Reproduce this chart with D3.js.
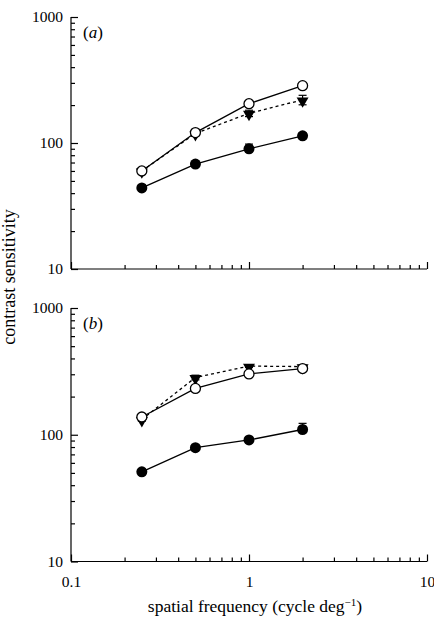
<!DOCTYPE html>
<html>
<head>
<meta charset="utf-8">
<script src="https://cdn.jsdelivr.net/npm/d3@7/dist/d3.min.js"></script>
<style>
  body { margin: 0; background: #fff; }
  svg { display: block; font-family: "Liberation Serif", "DejaVu Serif", serif; }
</style>
</head>
<body>
<svg id="chart" width="434" height="620"></svg>
<script>
// spatial frequencies (cycle/deg)
const freqs = [0.25, 0.5, 1, 2];

// panel (a)
const aOpen = [60, 121, 205, 285];
const aTri = [60, 119, 172, 220];
const aFilled = [44, 68, 90, 114];
const aTriErr = [3, 5, 10, 19];
const aFilledErr = [2, 2, 8, 6];

// panel (b)
const bOpen = [138, 232, 302, 333];
const bTri = [132, 283, 348, 345];
const bFilled = [51, 79, 91, 110];
const bTriErr = [4, 12, 8, 8];
const bFilledErr = [2, 3, 4, 13];

const yMajor = [10, 100, 1000];
const xMajor = [0.1, 1, 10];

const svg = d3.select('#chart');

const x = d3.scaleLog().domain([0.1, 10]).range([71, 427]);

function minorTicks(lo, hi) {
  const out = [];
  for (let d = lo; d < hi; d *= 10) {
    for (let k = 2; k <= 9; k++) out.push(+(d * k).toPrecision(3));
  }
  return out;
}

function panel(top, bottom, label, open, tri, filled, triErr, filledErr, showX) {
  const y = d3.scaleLog().domain([10, 1000]).range([bottom, top]);
  const g = svg.append('g');

  // y axis: ticks point inwards
  g.append('g')
    .attr('transform', `translate(${x(0.1)},0)`)
    .call(d3.axisLeft(y).tickValues(yMajor).tickSize(-7).tickPadding(8)
      .tickFormat(d3.format('d')))
    .call(a => a.select('.domain').attr('d', `M0,${bottom}V${top}`))
    .call(a => a.selectAll('text').attr('font-size', 15.5).attr('font-family', 'Liberation Serif').attr('fill', '#000'));
  g.append('g')
    .attr('transform', `translate(${x(0.1)},0)`)
    .call(d3.axisLeft(y).tickValues(minorTicks(10, 1000)).tickSize(-4).tickFormat(''))
    .call(a => a.select('.domain').remove());

  // x axis
  g.append('g')
    .attr('transform', `translate(0,${bottom})`)
    .call(d3.axisBottom(x).tickValues(xMajor).tickSize(-7).tickPadding(14)
      .tickFormat(showX ? (d => d3.format('~g')(d)) : ''))
    .call(a => a.select('.domain').attr('d', `M${x(0.1)},0H${x(10)}`))
    .call(a => a.selectAll('text').attr('font-size', 15.5).attr('font-family', 'Liberation Serif').attr('fill', '#000'));
  g.append('g')
    .attr('transform', `translate(0,${bottom})`)
    .call(d3.axisBottom(x).tickValues(minorTicks(0.1, 10)).tickSize(-4).tickFormat(''))
    .call(a => a.select('.domain').remove());

  g.selectAll('.domain, .tick line').attr('stroke', '#000').attr('stroke-width', 1.2);

  g.append('text')
    .attr('x', 83).attr('y', top + 21)
    .attr('font-size', 17)
    .html('(<tspan font-style="italic">' + label + '</tspan>)');

  const line = d3.line().x((d, i) => x(freqs[i])).y(d => y(d));

  // error bars
  function errBars(vals, errs, both) {
    const eb = g.append('g').attr('stroke', '#000').attr('stroke-width', 1.2);
    vals.forEach((v, i) => {
      const cx = x(freqs[i]);
      const y1 = y(v + errs[i]);
      const y0 = both ? y(Math.max(v - errs[i], 1)) : y(v);
      eb.append('line').attr('x1', cx).attr('x2', cx).attr('y1', y1).attr('y2', y0);
      eb.append('line').attr('x1', cx - 4).attr('x2', cx + 4).attr('y1', y1).attr('y2', y1);
      if (both) eb.append('line').attr('x1', cx - 4).attr('x2', cx + 4).attr('y1', y0).attr('y2', y0);
    });
  }
  errBars(tri, triErr, true);
  errBars(filled, filledErr, false);

  g.append('path').datum(tri).attr('d', line)
    .attr('fill', 'none').attr('stroke', '#000').attr('stroke-width', 1.3)
    .attr('stroke-dasharray', '3,3');
  g.append('path').datum(open).attr('d', line)
    .attr('fill', 'none').attr('stroke', '#000').attr('stroke-width', 1.3);
  g.append('path').datum(filled).attr('d', line)
    .attr('fill', 'none').attr('stroke', '#000').attr('stroke-width', 1.3);

  // markers
  g.selectAll('.tri').data(tri).enter().append('path')
    .attr('d', d3.symbol().type(d3.symbolTriangle).size(62))
    .attr('transform', (d, i) => `translate(${x(freqs[i])},${y(d) + 1}) rotate(180)`)
    .attr('fill', '#000');
  g.selectAll('.open').data(open).enter().append('circle')
    .attr('cx', (d, i) => x(freqs[i])).attr('cy', d => y(d)).attr('r', 5)
    .attr('fill', '#fff').attr('stroke', '#000').attr('stroke-width', 1.3);
  g.selectAll('.filled').data(filled).enter().append('circle')
    .attr('cx', (d, i) => x(freqs[i])).attr('cy', d => y(d)).attr('r', 5.5)
    .attr('fill', '#000');
}

panel(17, 269, 'a', aOpen, aTri, aFilled, aTriErr, aFilledErr, false);
panel(308, 561.5, 'b', bOpen, bTri, bFilled, bTriErr, bFilledErr, true);

svg.append('text')
  .attr('transform', 'translate(15,277) rotate(-90)')
  .attr('text-anchor', 'middle')
  .attr('font-size', 18)
  .text('contrast sensitivity');

svg.append('text')
  .attr('x', 255).attr('y', 612)
  .attr('text-anchor', 'middle')
  .attr('font-size', 17.5)
  .html('spatial frequency (cycle deg<tspan dy="-6" font-size="11">\u22121</tspan><tspan dy="6">)</tspan>');
</script>
</body>
</html>
